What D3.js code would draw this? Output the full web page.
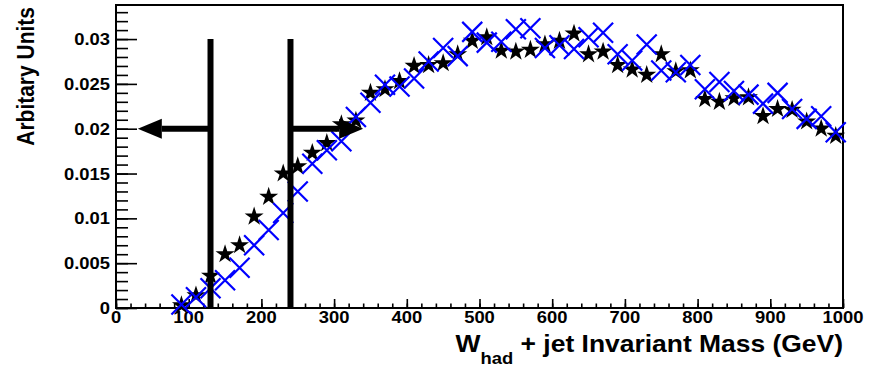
<!DOCTYPE html>
<html>
<head>
<meta charset="utf-8">
<script src="https://cdn.jsdelivr.net/npm/d3@7"></script>
<style>
  body { margin: 0; background: #fff; }
  svg { display: block; }
  text { font-family: "Liberation Sans", Arial, sans-serif; font-weight: bold; fill: #000; }
</style>
</head>
<body>
<div id="chart"></div>
<script>
// invariant mass, bin centres (GeV)
const massBins = [90, 110, 130, 150, 170, 190, 210, 230, 250, 270,
  290, 310, 330, 350, 370, 390, 410, 430, 450, 470,
  490, 510, 530, 550, 570, 590, 610, 630, 650, 670,
  690, 710, 730, 750, 770, 790, 810, 830, 850, 870,
  890, 910, 930, 950, 970, 990];

// black stars
const starVals = [0.0003, 0.0014, 0.0036, 0.0060, 0.0070, 0.0102, 0.0124, 0.0150, 0.0158, 0.0173,
  0.0184, 0.0205, 0.0209, 0.0240, 0.0244, 0.0253, 0.0270, 0.0271, 0.0273, 0.0283,
  0.0298, 0.0302, 0.0287, 0.0286, 0.0288, 0.0294, 0.0298, 0.0306, 0.0283, 0.0286,
  0.0271, 0.0266, 0.0260, 0.0283, 0.0264, 0.0265, 0.0233, 0.0230, 0.0234, 0.0235,
  0.0214, 0.0222, 0.0221, 0.0208, 0.0200, 0.0192];

// blue crosses
const crossVals = [0.0004, 0.0012, 0.0022, 0.0031, 0.0045, 0.0070, 0.0087, 0.0106, 0.0130, 0.0161,
  0.0176, 0.0186, 0.0213, 0.0229, 0.0249, 0.0247, 0.0256, 0.0275, 0.0290, 0.0281,
  0.0308, 0.0296, 0.0297, 0.0311, 0.0312, 0.0290, 0.0293, 0.0289, 0.0302, 0.0307,
  0.0283, 0.0276, 0.0294, 0.0265, 0.0263, 0.0271, 0.0244, 0.0252, 0.0242, 0.0238,
  0.0228, 0.0240, 0.0222, 0.0211, 0.0214, 0.0196];

// cut lines and arrows
const cutValues = [130, 240];
const cutHeight = 0.03;
const arrowLevel = 0.02;
const arrowEnds = [30, 340];

const xTicks = [0, 100, 200, 300, 400, 500, 600, 700, 800, 900, 1000];
const xTickLabels = ["0", "100", "200", "300", "400", "500", "600", "700", "800", "900", "1000"];
const yTicks = [0, 0.005, 0.01, 0.015, 0.02, 0.025, 0.03];
const yTickLabels = ["0", "0.005", "0.01", "0.015", "0.02", "0.025", "0.03"];

const W = 880, H = 367;
const margin = { top: 5, right: 37, bottom: 59, left: 116 };
const SX = 1.15; // text in the picture is a bit wider than tall

const svg = d3.select("#chart").append("svg")
  .attr("width", W)
  .attr("height", H);

svg.append("rect").attr("width", W).attr("height", H).attr("fill", "#fff");

const x = d3.scaleLinear().domain([0, 1000]).range([margin.left, W - margin.right]);
const y = d3.scaleLinear().domain([0, 0.0338]).range([H - margin.bottom, margin.top]);

const x0 = x(0), y0 = y(0);

// ticks (pointing into the frame)
const yMinor = d3.range(0, 0.0335, 0.001);
svg.append("g")
  .attr("transform", `translate(${x0},0)`)
  .call(d3.axisLeft(y).tickValues(yMinor).tickSize(-12).tickFormat(""))
  .call(g => g.select(".domain").remove());
svg.append("g")
  .attr("transform", `translate(${x0},0)`)
  .call(d3.axisLeft(y).tickValues(yTicks).tickSize(-21).tickFormat(""))
  .call(g => g.select(".domain").remove());

const xMinor = d3.range(0, 1001, 20);
svg.append("g")
  .attr("transform", `translate(0,${y0})`)
  .call(d3.axisBottom(x).tickValues(xMinor).tickSize(-4.5).tickFormat(""))
  .call(g => g.select(".domain").remove());
svg.append("g")
  .attr("transform", `translate(0,${y0})`)
  .call(d3.axisBottom(x).tickValues(xTicks).tickSize(-9).tickFormat(""))
  .call(g => g.select(".domain").remove());

svg.selectAll(".tick line").attr("stroke", "#000").attr("stroke-width", 1.6);

// frame
svg.append("rect")
  .attr("x", x0)
  .attr("y", margin.top)
  .attr("width", x(1000) - x0)
  .attr("height", y0 - margin.top)
  .attr("fill", "none")
  .attr("stroke", "#000")
  .attr("stroke-width", 2);

// tick labels
svg.selectAll(".ylab")
  .data(yTicks)
  .enter().append("text")
  .attr("class", "ylab")
  .attr("transform", d => `translate(${x0 - 6},${y(d) + 6}) scale(${SX},1)`)
  .attr("text-anchor", "end")
  .attr("font-size", 16)
  .text((d, i) => yTickLabels[i]);

svg.selectAll(".xlab")
  .data(xTicks)
  .enter().append("text")
  .attr("class", "xlab")
  .attr("transform", d => `translate(${x(d)},${y0 + 15}) scale(${SX},1)`)
  .attr("text-anchor", "middle")
  .attr("font-size", 16)
  .text((d, i) => xTickLabels[i]);

// axis titles
svg.append("text")
  .attr("transform", `translate(34,7) rotate(-90) scale(1,${SX})`)
  .attr("text-anchor", "end")
  .attr("font-size", 21)
  .text("Arbitary Units");

const xt = svg.append("text")
  .attr("transform", `translate(${x(1000)},352) scale(${SX},1)`)
  .attr("text-anchor", "end")
  .attr("font-size", 23);
xt.append("tspan").text("W");
xt.append("tspan").attr("font-size", 16).attr("dy", 12).text("had");
xt.append("tspan").attr("dy", -12).text(" + jet Invariant Mass (GeV)");

// data
const stars = massBins.map((m, i) => ({ m, v: starVals[i] }));
const crosses = massBins.map((m, i) => ({ m, v: crossVals[i] }));

svg.selectAll(".star")
  .data(stars)
  .enter().append("path")
  .attr("class", "star")
  .attr("transform", d => `translate(${x(d.m)},${y(d.v)})`)
  .attr("d", d3.symbol().type(d3.symbolStar).size(112))
  .attr("fill", "#000");

svg.selectAll(".cross")
  .data(crosses)
  .enter().append("path")
  .attr("class", "cross")
  .attr("transform", d => `translate(${x(d.m)},${y(d.v)})`)
  .attr("d", "M-10,-10L10,10M-10,10L10,-10")
  .attr("fill", "none")
  .attr("stroke", "#0000ff")
  .attr("stroke-width", 2.2);

// cut lines with arrows
svg.selectAll(".cut")
  .data(cutValues)
  .enter().append("line")
  .attr("class", "cut")
  .attr("x1", d => x(d)).attr("x2", d => x(d))
  .attr("y1", y(0)).attr("y2", y(cutHeight))
  .attr("stroke", "#000")
  .attr("stroke-width", 6);

const headLen = 24, headHalf = 10;
cutValues.forEach((c, i) => {
  const xs = x(c), xe = x(arrowEnds[i]);
  const dir = Math.sign(xe - xs);
  const yy = y(arrowLevel);
  svg.append("line")
    .attr("x1", xs).attr("x2", xe - dir * headLen)
    .attr("y1", yy).attr("y2", yy)
    .attr("stroke", "#000")
    .attr("stroke-width", 6);
  svg.append("path")
    .attr("d", `M${xe},${yy}L${xe - dir * headLen},${yy - headHalf}L${xe - dir * headLen},${yy + headHalf}Z`)
    .attr("fill", "#000");
});
</script>
</body>
</html>
